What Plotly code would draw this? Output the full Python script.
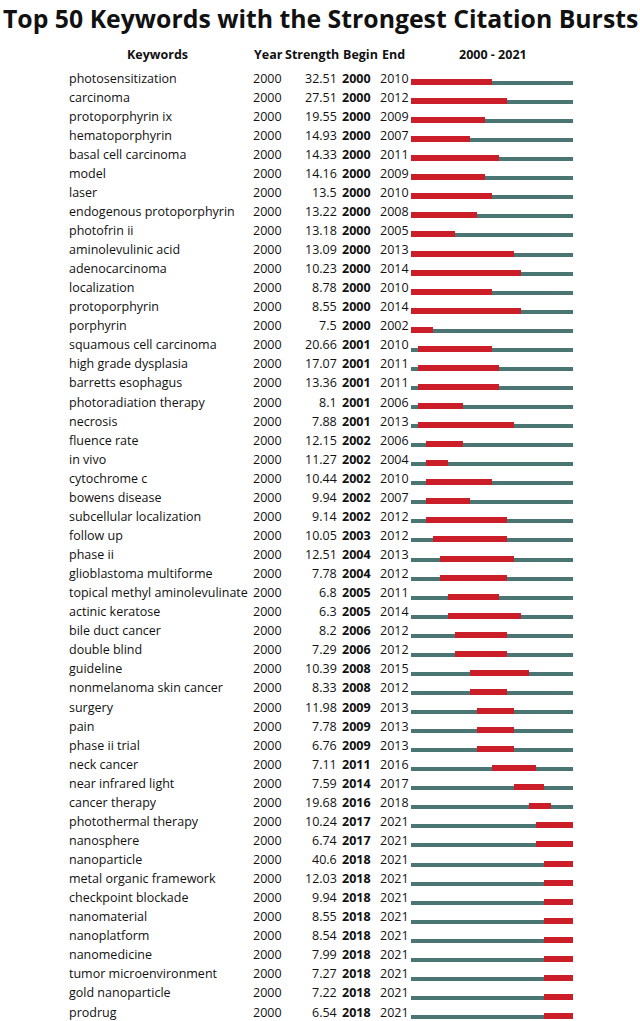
import plotly.graph_objects as go

keywords = ["photosensitization", "carcinoma", "protoporphyrin ix", "hematoporphyrin", "basal cell carcinoma",
            "model", "laser", "endogenous protoporphyrin", "photofrin ii", "aminolevulinic acid",
            "adenocarcinoma", "localization", "protoporphyrin", "porphyrin", "squamous cell carcinoma",
            "high grade dysplasia", "barretts esophagus", "photoradiation therapy", "necrosis", "fluence rate",
            "in vivo", "cytochrome c", "bowens disease", "subcellular localization", "follow up",
            "phase ii", "glioblastoma multiforme", "topical methyl aminolevulinate", "actinic keratose", "bile duct cancer",
            "double blind", "guideline", "nonmelanoma skin cancer", "surgery", "pain",
            "phase ii trial", "neck cancer", "near infrared light", "cancer therapy", "photothermal therapy",
            "nanosphere", "nanoparticle", "metal organic framework", "checkpoint blockade", "nanomaterial",
            "nanoplatform", "nanomedicine", "tumor microenvironment", "gold nanoparticle", "prodrug"]
strength = ["32.51", "27.51", "19.55", "14.93", "14.33", "14.16", "13.5", "13.22", "13.18", "13.09",
            "10.23", "8.78", "8.55", "7.5", "20.66", "17.07", "13.36", "8.1", "7.88", "12.15",
            "11.27", "10.44", "9.94", "9.14", "10.05", "12.51", "7.78", "6.8", "6.3", "8.2",
            "7.29", "10.39", "8.33", "11.98", "7.78", "6.76", "7.11", "7.59", "19.68", "10.24",
            "6.74", "40.6", "12.03", "9.94", "8.55", "8.54", "7.99", "7.27", "7.22", "6.54"]
begin = [2000, 2000, 2000, 2000, 2000, 2000, 2000, 2000, 2000, 2000,
         2000, 2000, 2000, 2000, 2001, 2001, 2001, 2001, 2001, 2002,
         2002, 2002, 2002, 2002, 2003, 2004, 2004, 2005, 2005, 2006,
         2006, 2008, 2008, 2009, 2009, 2009, 2011, 2014, 2016, 2017,
         2017, 2018, 2018, 2018, 2018, 2018, 2018, 2018, 2018, 2018]
end = [2010, 2012, 2009, 2007, 2011, 2009, 2010, 2008, 2005, 2013,
       2014, 2010, 2014, 2002, 2010, 2011, 2011, 2006, 2013, 2006,
       2004, 2010, 2007, 2012, 2012, 2013, 2012, 2011, 2014, 2012,
       2012, 2015, 2012, 2013, 2013, 2013, 2016, 2017, 2018, 2021,
       2021, 2021, 2021, 2021, 2021, 2021, 2021, 2021, 2021, 2021]
year = [2000] * 50
start_year, end_year = 2000, 2021

n = len(keywords)
rows = list(range(n))
W, H = 640, 1021
FONT = "Open Sans"
RED = "#cc1e28"
GRAY = "#4a7572"

fig = go.Figure()
fig.add_trace(go.Bar(
    y=rows, x=[end_year + 1 - start_year] * n, base=[start_year] * n,
    orientation="h", marker=dict(color=GRAY, line=dict(width=0)),
    width=0.21, offset=0.157, hoverinfo="skip", showlegend=False))
fig.add_trace(go.Bar(
    y=rows, x=[e + 1 - b for b, e in zip(begin, end)], base=begin,
    orientation="h", marker=dict(color=RED, line=dict(width=0)),
    width=0.315, offset=0.052, hoverinfo="skip", showlegend=False))

ann = []
fs = 12.5
for i in rows:
    ann.append(dict(x=67 / W, y=i, xref="paper", yref="y", text=keywords[i], xanchor="left",
                    showarrow=False, font=dict(family=FONT, size=fs, color="#111")))
    ann.append(dict(x=251 / W, y=i, xref="paper", yref="y", text=str(year[i]), xanchor="left",
                    showarrow=False, font=dict(family=FONT, size=fs, color="#111")))
    ann.append(dict(x=339 / W, y=i, xref="paper", yref="y", text=strength[i], xanchor="right",
                    showarrow=False, font=dict(family=FONT, size=fs, color="#111")))
    ann.append(dict(x=340 / W, y=i, xref="paper", yref="y", text="<b>%d</b>" % begin[i], xanchor="left",
                    showarrow=False, font=dict(family=FONT, size=fs, color="#111")))
    ann.append(dict(x=378 / W, y=i, xref="paper", yref="y", text=str(end[i]), xanchor="left",
                    showarrow=False, font=dict(family=FONT, size=fs, color="#111")))

hy = -1.21
hfont = dict(family=FONT, size=12.5, color="#111")
ann += [
    dict(x=157 / W, y=hy, xref="paper", yref="y", text="<b>Keywords</b>", xanchor="center", showarrow=False, font=hfont),
    dict(x=252 / W, y=hy, xref="paper", yref="y", text="<b>Year</b>", xanchor="left", showarrow=False, font=hfont),
    dict(x=283 / W, y=hy, xref="paper", yref="y", text="<b>Strength</b>", xanchor="left", showarrow=False, font=hfont),
    dict(x=341 / W, y=hy, xref="paper", yref="y", text="<b>Begin</b>", xanchor="left", showarrow=False, font=hfont),
    dict(x=380 / W, y=hy, xref="paper", yref="y", text="<b>End</b>", xanchor="left", showarrow=False, font=hfont),
    dict(x=493 / W, y=hy, xref="paper", yref="y", text="<b>%d - %d</b>" % (start_year, end_year),
         xanchor="center", showarrow=False, font=hfont),
    dict(x=0.5, y=1 - 18 / H, xref="paper", yref="paper", yanchor="middle",
         text="<b>Top 50 Keywords with the Strongest Citation Bursts</b>", xanchor="center",
         showarrow=False, font=dict(family=FONT, size=24.8, color="#111")),
]

px_per_row = (1012 - 78) / 49
fig.update_layout(
    width=W, height=H, margin=dict(l=0, r=0, t=0, b=0),
    paper_bgcolor="white", plot_bgcolor="white",
    barmode="overlay", bargap=0,
    xaxis=dict(domain=[411 / W, 573 / W], range=[start_year, end_year + 1], visible=False, fixedrange=True),
    yaxis=dict(range=[(H - 78) / px_per_row, -78 / px_per_row], visible=False, fixedrange=True),
    annotations=ann, showlegend=False,
)
fig.write_html("out.html", config={"displayModeBar": False},
               post_script="document.body.style.margin='0';document.body.style.overflow='hidden';")
